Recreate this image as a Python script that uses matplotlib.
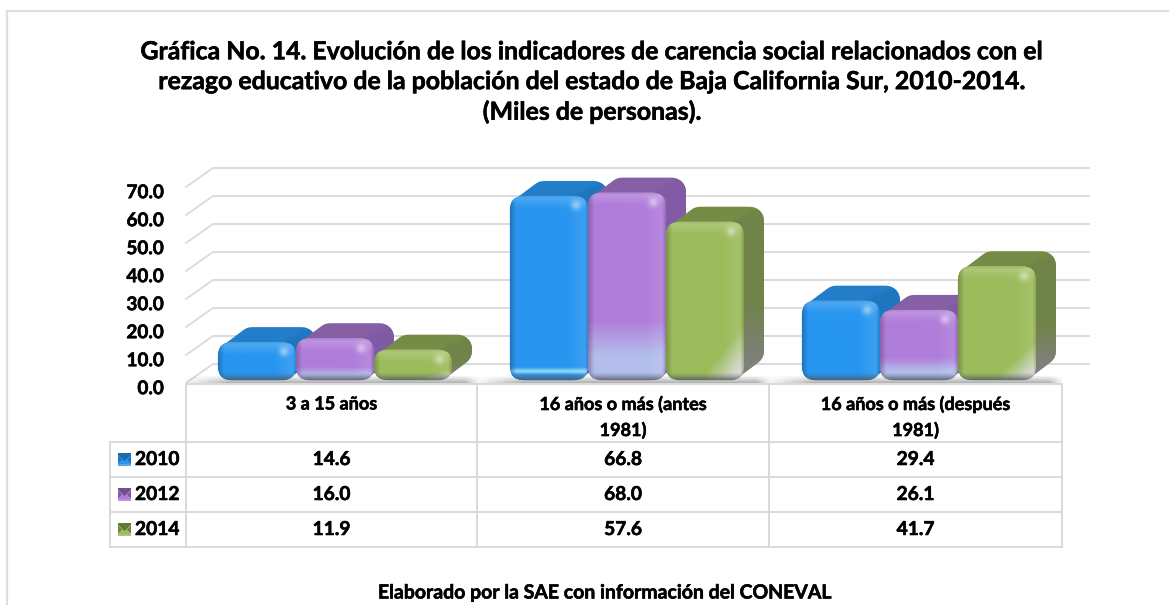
import numpy as np
import matplotlib
matplotlib.use('Agg')
import matplotlib.pyplot as plt
import matplotlib.patheffects as pe
from matplotlib.patches import FancyBboxPatch, Polygon
from matplotlib.transforms import ScaledTranslation

plt.rcParams['font.family'] = ['Lato', 'DejaVu Sans']
plt.rcParams['font.weight'] = 'bold'

# datos de la tabla
categorias = ['3 a 15 años', '16 años o más (antes\n1981)', '16 años o más (después\n1981)']
anios = ['2010', '2012', '2014']
v2010 = [14.6, 66.8, 29.4]
v2012 = [16.0, 68.0, 26.1]
v2014 = [11.9, 57.6, 41.7]
series = [v2010, v2012, v2014]
y_ticks = [0, 10, 20, 30, 40, 50, 60, 70]

titulo = ('Gráfica No. 14. Evolución de los indicadores de carencia social relacionados con el\n'
          'rezago educativo de la población del estado de Baja California Sur, 2010-2014.\n'
          '(Miles de personas).')
fuente = 'Elaborado por la SAE con información del CONEVAL'

# colores: frente, tapa, lateral arriba, lateral abajo
col_frente = [(40, 150, 240), (176, 125, 218), (156, 188, 92)]
col_tapa = [(35, 125, 200), (135, 95, 165), (118, 140, 70)]
col_lado = [(30, 118, 190), (130, 90, 165), (112, 132, 72)]
col_lado2 = [(30, 105, 170), (125, 95, 160), (128, 128, 125)]
GRID = '#d9d9d9'

W, H = 1169, 605
PX_CAT = 292.0   # pixeles por categoria
PX_VAL = 2.8     # pixeles por unidad de valor


def rgb(c):
    return np.array(c, dtype=float) / 255


def esquina(x0, y0, x1, y1, rx, ry):
    # puntos de un rectangulo redondeado
    pts = []
    centros = [(x1 - rx, y1 - ry, 0), (x0 + rx, y1 - ry, 90), (x0 + rx, y0 + ry, 180), (x1 - rx, y0 + ry, 270)]
    for cx, cy, a in centros:
        t = np.radians(np.linspace(a, a + 90, 8))
        pts += list(zip(cx + rx * np.cos(t), cy + ry * np.sin(t)))
    return pts


def envolvente(pts):
    pts = sorted(set(pts))

    def cruz(o, a, b):
        return (a[0] - o[0]) * (b[1] - o[1]) - (a[1] - o[1]) * (b[0] - o[0])

    abajo, arriba = [], []
    for p in pts:
        while len(abajo) > 1 and cruz(abajo[-2], abajo[-1], p) <= 0:
            abajo.pop()
        abajo.append(p)
    for p in reversed(pts):
        while len(arriba) > 1 and cruz(arriba[-2], arriba[-1], p) <= 0:
            arriba.pop()
        arriba.append(p)
    return abajo[:-1] + arriba[:-1]


def textura_frente(serie, w_px, h_px):
    # sombreado del frente de la barra (brillo, biseles y reflejo)
    w_px, h_px = int(round(w_px)) * 2, max(int(round(h_px)) * 2, 4)
    yy, xx = np.mgrid[0:h_px, 0:w_px] / 2.0
    h, w = h_px / 2.0, w_px / 2.0
    d_top, d_bot, d_izq, d_der = yy, h - yy, xx, w - xx
    base = rgb(col_frente[serie])
    img = np.ones((h_px, w_px, 4))
    img[..., :3] = base

    frac = d_bot / h
    if serie == 1:
        t = np.clip((0.32 - frac) / 0.19, 0, 1)[..., None]
        img[..., :3] = img[..., :3] * (1 - t) + rgb((178, 190, 235)) * t
    if serie == 2:
        t = np.clip((xx / w - 0.55) / 0.4 + (0.3 - frac) / 0.25 - 0.9, 0, 1)[..., None]
        img[..., :3] = img[..., :3] * (1 - t) + rgb((214, 216, 210)) * t
    if serie == 0 and h > 100:
        t = np.clip(1 - np.abs(d_bot - 9) / 4, 0, 1)[..., None]
        img[..., :3] = img[..., :3] * (1 - t) + rgb((150, 220, 250)) * t

    def mezcla(t, c, k):
        t = (t * k)[..., None]
        img[..., :3] = img[..., :3] * (1 - t) + np.array(c) * t

    mezcla(np.clip(1 - d_top / 13, 0, 1), (1, 1, 1), 0.22)
    mezcla(np.clip(1 - d_der / 21, 0, 1) * np.clip(d_der / 5, 0, 1), (1, 1, 1), 0.12)
    mezcla(np.clip(1 - d_izq / 6, 0, 1), base * 0.6, 0.55)
    mezcla(np.clip(1 - d_der / 4, 0, 1), base * 0.6, 0.45)
    mezcla(np.clip(1 - d_top / 3, 0, 1), base * 0.7, 0.3)
    mezcla(np.clip(1 - d_bot / 8, 0, 1) ** 1.3, rgb((80, 85, 100)), 0.85)
    mezcla(np.exp(-((d_der - 13) ** 2 + (d_top - 10) ** 2) / 22), (1, 1, 1), 0.45)
    return img


def barra(ax, xc, valor, serie):
    bw = 78.0 / PX_CAT
    dx, dy = 20.0 / PX_CAT, 15.0 / PX_VAL
    rx, ry = 14.0 / PX_CAT, 14.0 / PX_VAL
    x0, x1 = xc - bw / 2, xc + bw / 2
    y0, y1 = 1.0, valor

    pts = esquina(x0, y0, x1, y1, rx, ry)
    pts_atras = [(a + dx, b + dy) for a, b in pts]
    casco = Polygon(envolvente(pts + pts_atras), closed=True, fc=rgb(col_tapa[serie]), ec='none', zorder=3 + serie)
    ax.add_patch(casco)

    # cara lateral con degradado, recortada al casco
    h_lado = max(int((y1 + dy - y0) * PX_VAL), 4)
    w_lado = int((dx + rx) * PX_CAT)
    v = np.linspace(0, 1, h_lado)[:, None] * np.ones((1, w_lado))
    u = np.ones((h_lado, 1)) * np.linspace(0, 1, w_lado)[None, :]
    img = np.ones((h_lado, w_lado, 4))
    for k in range(3):
        fondo = np.clip((v - 0.55) / 0.35, 0, 1)
        img[..., k] = (rgb(col_lado[serie])[k] * (1 - fondo) + rgb(col_lado2[serie])[k] * fondo)
    # la diagonal separa tapa y lateral
    dist_top = v * h_lado
    limite = np.maximum(dy * PX_VAL * (1 - u) * 1.0, 0)
    img[..., 3] = np.clip((dist_top - limite + 3) / 6, 0, 1)
    im = ax.imshow(img, extent=(x1 - rx, x1 + dx, y0, y1 + dy), origin='upper', aspect='auto',
                   interpolation='bilinear', zorder=3 + serie + 0.1)
    im.set_clip_path(casco)

    # frente
    frente = FancyBboxPatch((x0, y0), bw, y1 - y0, boxstyle=f'round,pad=0,rounding_size={rx}',
                            mutation_aspect=PX_CAT / PX_VAL, fc=rgb(col_frente[serie]), ec='none',
                            zorder=3 + serie + 0.2)
    ax.add_patch(frente)
    im2 = ax.imshow(textura_frente(serie, 78, (y1 - y0) * PX_VAL), extent=(x0, x1, y0, y1), origin='upper',
                    aspect='auto', interpolation='bilinear', zorder=3 + serie + 0.3)
    im2.set_clip_path(frente)


fig = plt.figure(figsize=(W / 100, H / 100), dpi=100, facecolor='white')

# capa de fondo en pixeles: marco, tabla y textos
bg = fig.add_axes([0, 0, 1, 1])
bg.set_xlim(0, W)
bg.set_ylim(H, 0)
bg.axis('off')
bg.plot([7, 7, W], [H, 11, 11], color='#dedede', lw=1.6, solid_joinstyle='miter')
bg.text(592, 82, titulo, ha='center', va='center', fontsize=17.9, linespacing=1.36, color='black')
bg.text(606, 593, fuente, ha='center', va='center', fontsize=14, color='black')

filas_y = [442, 477, 512, 547]
cols_x = [186, 477, 769, 1062]
for fy in filas_y:
    bg.plot([110, 1062], [fy, fy], color=GRID, lw=1.4)
bg.plot([186, 1062], [384, 384], color=GRID, lw=1.4)
bg.plot([110, 110], [442, 547], color=GRID, lw=1.4)
for cx in cols_x:
    bg.plot([cx, cx], [384, 547], color=GRID, lw=1.4)

for i, cat in enumerate(categorias):
    cx = (cols_x[i] + cols_x[i + 1]) / 2
    if '\n' in cat:
        a, b = cat.split('\n')
        bg.text(cx, 404, a, ha='center', va='center', fontsize=13)
        bg.text(cx, 430, b, ha='center', va='center', fontsize=13)
    else:
        bg.text(cx, 404, cat, ha='center', va='center', fontsize=13)
    for s in range(3):
        bg.text(cx, (filas_y[s] + filas_y[s + 1]) / 2, f'{series[s][i]:.1f}', ha='center', va='center', fontsize=13.8)

for s, anio in enumerate(anios):
    ym = (filas_y[s] + filas_y[s + 1]) / 2
    bg.text(135, ym, anio, ha='left', va='center', fontsize=13.8)
    # muestra de color
    yy, xx = np.mgrid[-1:1:13j, -1:1:13j]
    mues = np.zeros((13, 13, 3))
    mues[...] = rgb(col_frente[s])
    mues[yy < -np.abs(xx) + 0.2] = rgb(col_tapa[s]) * 0.85
    mues[np.abs(xx) > np.abs(yy) + 0.45] = rgb(col_lado[s])
    mues[yy > 0.7] = rgb(col_frente[s]) * 0.7 + 0.25
    bg.imshow(mues, extent=(118, 131, ym + 6.5, ym - 6.5), aspect='auto', interpolation='bilinear')
bg.set_xlim(0, W)
bg.set_ylim(H, 0)

# barras sobre escalas reales
ax = fig.add_axes([186 / W, (H - 383) / H, 876 / W, 224 / H])
ax.patch.set_alpha(0)
ax.set_xlim(-0.5, 2.5)
ax.set_ylim(0, 80)
ax.autoscale(False)
for sp in ax.spines.values():
    sp.set_visible(False)
ax.set_xticks([])
ax.set_yticks(y_ticks)
ax.set_yticklabels([f'{t:.1f}' for t in y_ticks], fontsize=13.6)
ax.tick_params(axis='y', length=0, pad=16)

# las etiquetas van un poco mas abajo que la linea
baja = ScaledTranslation(0, -3 / 72, fig.dpi_scale_trans)
for lab in ax.get_yticklabels():
    lab.set_transform(lab.get_transform() + baja)
    lab.set_path_effects([pe.withStroke(linewidth=0.4, foreground='black')])
for txt in bg.texts:
    txt.set_path_effects([pe.withStroke(linewidth=0.4, foreground='black')])

prof_x, prof_y = 27.0 / PX_CAT, 19.0 / PX_VAL
for t in y_ticks:
    ax.plot([-0.5, -0.5 + prof_x, 2.5 + prof_x], [t, t + prof_y, t + prof_y], color=GRID, lw=1.3,
            clip_on=False, zorder=1)

# sombra en el piso
for g in range(3):
    xc = g + 0.01
    ws = 290.0 / PX_CAT
    hs, ws_n = 14, 320
    xr = np.linspace(0, 1, ws_n)
    yr = np.linspace(0, 1, hs)
    sombra = np.zeros((hs, ws_n, 4))
    sombra[..., :3] = 0.45
    sombra[..., 3] = 0.55 * np.outer(yr, np.clip(xr / 0.16, 0, 1) * np.clip((1 - xr) / 0.05, 0, 1))
    ax.imshow(sombra, extent=(xc - ws / 2 - 0.03, xc + ws / 2, 0, hs / PX_VAL * 0.55), origin='upper',
              aspect='auto', interpolation='bilinear', zorder=2)

for g in range(3):
    for s in range(3):
        barra(ax, g + 0.01 + (s - 1) * 78.0 / PX_CAT, series[s][g], s)

ax.set_xlim(-0.5, 2.5)
ax.set_ylim(0, 80)

fig.savefig('out.png', dpi=100)
